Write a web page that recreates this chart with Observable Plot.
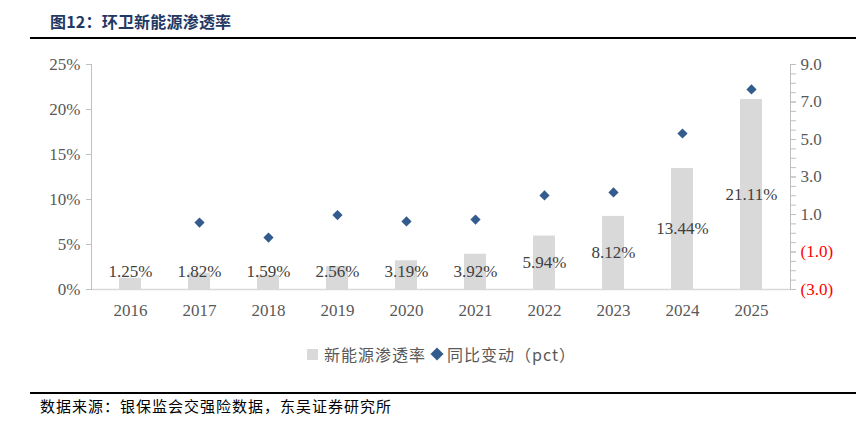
<!DOCTYPE html>
<html><head><meta charset="utf-8">
<script src="https://cdn.jsdelivr.net/npm/d3@7"></script>
<script src="https://cdn.jsdelivr.net/npm/@observablehq/plot@0.6"></script>
<style>
body{margin:0;background:#fff;width:856px;height:442px;position:relative;overflow:hidden;font-family:"Noto Sans CJK SC",sans-serif}
#title{position:absolute;left:50px;top:10px;font-size:16px;font-weight:bold;color:#1f3864;letter-spacing:0.2px;line-height:22px}
#rule1{position:absolute;left:30px;right:0;top:37px;height:2px;background:#000}
#chart{position:absolute;left:0;top:45px}
#legend{position:absolute;left:307px;top:343px;font-size:16px;color:#595959;line-height:22px;white-space:nowrap;letter-spacing:1px;display:flex;align-items:center}
#legend .sq{display:inline-block;width:11px;height:11px;background:#d9d9d9;margin-right:6px}
#legend svg{margin:0 3px 0 4px}
#rule2{position:absolute;left:30px;right:0;top:392px;height:1.5px;background:#000}
#source{position:absolute;left:40px;top:395px;font-size:15px;color:#000;line-height:22px;letter-spacing:1px}
</style></head>
<body>
<div id="title">图12：环卫新能源渗透率</div>
<div id="rule1"></div>
<div id="chart"></div>
<div id="legend"><span class="sq"></span><span id="lg1"></span><svg width="14" height="14" viewBox="-7 -7 14 14"><path d="M0,-6.5L6.5,0L0,6.5L-6.5,0Z" fill="#335b8e"/></svg><span id="lg2"></span></div>
<div id="rule2"></div>
<div id="source">数据来源：银保监会交强险数据，东吴证券研究所</div>
<script>
const years = ["2016","2017","2018","2019","2020","2021","2022","2023","2024","2025"];
const penetration = [1.25,1.82,1.59,2.56,3.19,3.92,5.94,8.12,13.44,21.11];
const yoyChange = [null,0.57,-0.23,0.97,0.63,0.73,2.02,2.18,5.32,7.67];
const leftTicks = [0,5,10,15,20,25];
const rightTicks = [-3,-1,1,3,5,7,9];
const seriesNames = ["新能源渗透率","同比变动（pct）"];

document.getElementById("lg1").textContent = seriesNames[0];
document.getElementById("lg2").textContent = seriesNames[1];

const rows = years.map((y,i)=>({year:y, pen:penetration[i], yoy:yoyChange[i]}));
const rMin = -3, rMax = 9, lMax = 25;
const toLeft = v => (v - rMin)/(rMax - rMin)*lMax;
const minor = d3.range(rMin, rMax + 0.001, 0.5);
const fmtR = v => v < 0 ? `(${Math.abs(v).toFixed(1)})` : v.toFixed(1);
const fromLeft = d => Math.round((d/lMax*(rMax-rMin)+rMin)*10)/10;
const serif = "Liberation Serif, Times New Roman, serif";
const fs = 17;

const chart = Plot.plot({
  width: 856, height: 290,
  marginTop: 19, marginBottom: 46, marginLeft: 91, marginRight: 66,
  style: {fontFamily: serif, fontSize: fs + "px", background: "transparent"},
  x: {domain: years, paddingInner: 0.685, paddingOuter: 0.3425, axis: null, label: null},
  y: {domain: [0, lMax], axis: null, label: null},
  marks: [
    Plot.barY(rows, {x: "year", y: "pen", fill: "#d9d9d9"}),
    Plot.ruleY([0], {stroke: "#d9d9d9", strokeWidth: 1.5}),
    Plot.frame({anchor: "left", stroke: "#bfbfbf"}),
    Plot.frame({anchor: "right", stroke: "#bfbfbf"}),
    Plot.axisX({label: null, tickSize: 0, tickPadding: 14, color: "#595959", fontSize: fs, fontFamily: serif}),
    Plot.axisY({label: null, ticks: leftTicks, tickFormat: d => d + "%", tickSize: 5, tickPadding: 6, color: "#595959", stroke: "#bfbfbf", fontSize: fs, fontFamily: serif}),
    Plot.axisY({label: null, anchor: "right", ticks: minor.map(toLeft), tickFormat: () => "", tickSize: 5, stroke: "#bfbfbf"}),
    Plot.axisY({label: null, anchor: "right", ticks: rightTicks.filter(v => v >= 0).map(toLeft), tickFormat: d => fmtR(fromLeft(d)), tickSize: 5, tickPadding: 5, color: "#595959", stroke: "#bfbfbf", fontSize: fs, fontFamily: serif}),
    Plot.axisY({label: null, anchor: "right", ticks: rightTicks.filter(v => v < 0).map(toLeft), tickFormat: d => fmtR(fromLeft(d)), tickSize: 5, tickPadding: 5, color: "#ff0000", stroke: "#bfbfbf", fontSize: fs, fontFamily: serif}),
    Plot.text(rows, {x: "year", y: d => Math.max(d.pen/2, 2), text: d => d.pen.toFixed(2) + "%", fill: "#404040", fontSize: fs, fontFamily: serif}),
    Plot.dot(rows.filter(d => d.yoy != null), {x: "year", y: d => toLeft(d.yoy), symbol: "diamond2", r: 4.6, fill: "#335b8e", stroke: "none"})
  ]
});
document.getElementById("chart").appendChild(chart);
</script>
</body></html>
